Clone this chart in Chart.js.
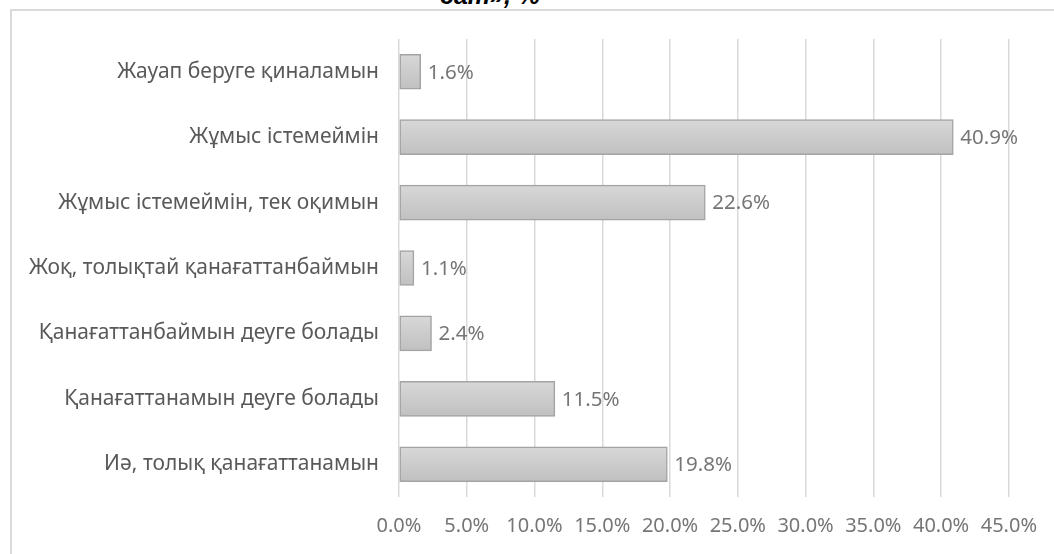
<!DOCTYPE html>
<html>
<head>
<meta charset="utf-8">
<script src="https://cdn.jsdelivr.net/npm/chart.js@4.4.0/dist/chart.umd.min.js"></script>
<style>
    html, body { margin: 0; padding: 0; background: #fff; }
    #wrap { position: relative; width: 1054px; height: 554px; overflow: hidden; }
    #frame { position: absolute; left: 10px; top: 9px; width: 1060px; height: 560px; border: 2px solid #d9d9d9; box-sizing: border-box; }
    #title { position: absolute; left: 440px; top: -19px; font: italic bold 25px "Liberation Sans", sans-serif; color: #000; white-space: nowrap; }
    canvas { position: absolute; left: 0; top: 0; }
</style>
</head>
<body>
<div id="wrap">
    <div id="frame"></div>
    <div id="title">сат», %</div>
    <canvas id="barChart" width="1054" height="554"></canvas>
</div>
<script>
const categories = [
    'Жауап беруге қиналамын',
    'Жұмыс істемеймін',
    'Жұмыс істемеймін, тек оқимын',
    'Жоқ, толықтай қанағаттанбаймын',
    'Қанағаттанбаймын деуге болады',
    'Қанағаттанамын деуге болады',
    'Иә, толық қанағаттанамын'
];
const shares = [1.6, 40.9, 22.6, 1.1, 2.4, 11.5, 19.8];
const xTicks = [0, 5, 10, 15, 20, 25, 30, 35, 40, 45];

document.addEventListener('DOMContentLoaded', function() {
    const valueLabels = {
        id: 'valueLabels',
        afterDatasetsDraw(chart) {
            const ctx = chart.ctx;
            const meta = chart.getDatasetMeta(0);
            ctx.save();
            ctx.font = '20.5px "Noto Sans", sans-serif';
            ctx.fillStyle = '#767676';
            ctx.textAlign = 'left';
            ctx.textBaseline = 'middle';
            meta.data.forEach(function(bar, i) {
                ctx.fillText(shares[i].toFixed(1) + '%', bar.x + 7, bar.y + 1);
            });
            ctx.restore();
        }
    };

    const ctx = document.getElementById('barChart').getContext('2d');
    new Chart(ctx, {
        type: 'bar',
        data: {
            labels: categories,
            datasets: [{
                data: shares,
                backgroundColor: function(c) {
                    const chart = c.chart;
                    if (!chart.chartArea || !chart.scales.y) return '#cbcbcb';
                    const y = chart.scales.y.getPixelForValue(c.dataIndex);
                    const g = chart.ctx.createLinearGradient(0, y - 18, 0, y + 18);
                    g.addColorStop(0, '#d8d8d8');
                    g.addColorStop(1, '#c0c0c0');
                    return g;
                },
                borderColor: '#a3a3a3',
                borderWidth: 1.5,
                borderSkipped: false,
                barThickness: 35
            }]
        },
        options: {
            indexAxis: 'y',
            responsive: false,
            animation: false,
            layout: { padding: { left: 10, right: 44, top: 39, bottom: 0 } },
            plugins: {
                legend: { display: false },
                tooltip: { enabled: false }
            },
            scales: {
                x: {
                    min: 0,
                    max: 45,
                    afterBuildTicks: function(scale) {
                        scale.ticks = xTicks.map(v => ({ value: v }));
                    },
                    afterFit: function(scale) { scale.height = 57; },
                    grid: { color: '#d9d9d9', lineWidth: 1.5, drawTicks: false },
                    border: { display: false },
                    ticks: {
                        padding: 17,
                        color: '#767676',
                        maxRotation: 0,
                        autoSkip: false,
                        font: { family: '"Noto Sans", sans-serif', size: 20 },
                        callback: v => v.toFixed(1) + '%'
                    }
                },
                y: {
                    afterFit: function(scale) { scale.width = 389; },
                    grid: { display: false, drawTicks: false },
                    border: { display: false },
                    ticks: {
                        padding: 20,
                        color: '#595959',
                        font: { family: '"Noto Sans", sans-serif', size: 21 }
                    }
                }
            }
        },
        plugins: [valueLabels]
    });
});
</script>
</body>
</html>
